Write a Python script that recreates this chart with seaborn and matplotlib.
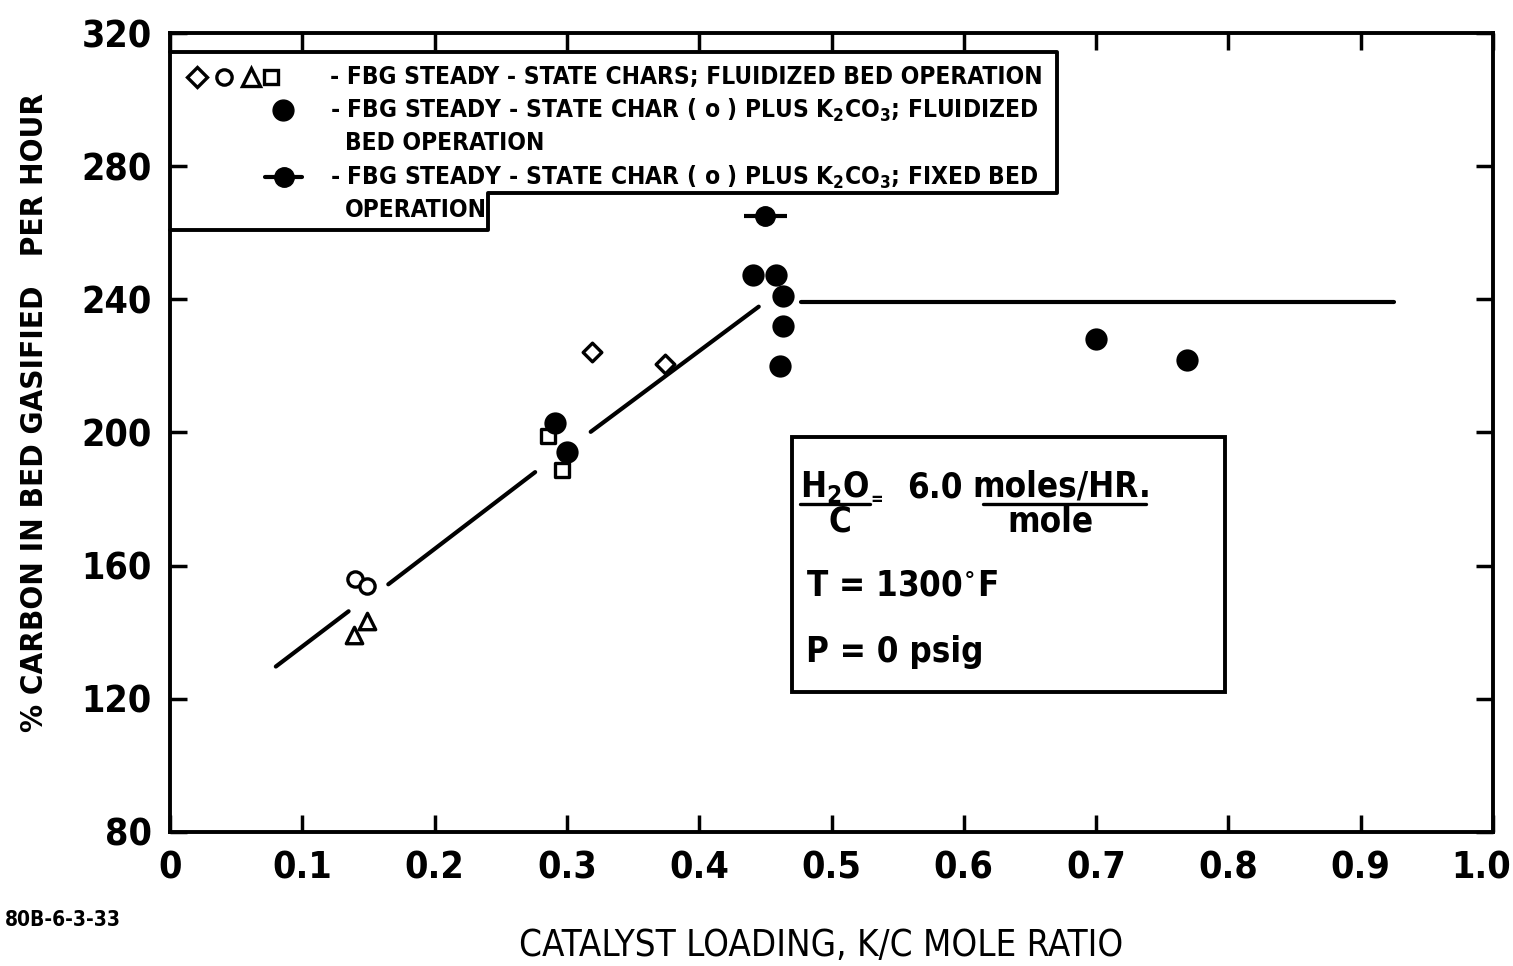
import numpy as np
import pandas as pd
import matplotlib
matplotlib.use("Agg")
import matplotlib.pyplot as plt
import seaborn as sns
from matplotlib.lines import Line2D
from matplotlib.transforms import ScaledTranslation

# ---------------- data ----------------
diamond_x = [0.319, 0.374]
diamond_y = [224.3, 220.7]
circle_x = [0.140, 0.149]
circle_y = [155.9, 153.8]
triangle_x = [0.139, 0.149]
triangle_y = [139.3, 143.3]
square_x = [0.286, 0.296]
square_y = [199.0, 188.7]
fluid_x = [0.291, 0.300, 0.441, 0.458, 0.463, 0.463, 0.461, 0.700, 0.769]
fluid_y = [202.9, 194.2, 247.2, 247.2, 241.1, 232.1, 220.0, 228.2, 221.9]
fixed_x = [0.450]
fixed_y = [264.9]
fixed_xerr = [0.016]
trend_seg = [1, 1, 2, 2, 3, 3, 4, 4]
trend_x = [0.080, 0.135, 0.165, 0.276, 0.318, 0.445, 0.477, 0.925]
trend_y = [129.7, 146.3, 154.4, 188.1, 200.2, 237.8, 239.3, 239.3]
x_ticks = [0, 0.1, 0.2, 0.3, 0.4, 0.5, 0.6, 0.7, 0.8, 0.9, 1.0]
x_labels = ["0", "0.1", "0.2", "0.3", "0.4", "0.5", "0.6", "0.7", "0.8", "0.9", "1.0"]
y_ticks = [80, 120, 160, 200, 240, 280, 320]

sns.set_theme(style="ticks")
FONT = ["DejaVu Sans", "Liberation Sans"]
plt.rcParams["font.family"] = FONT
plt.rcParams["font.stretch"] = "condensed"
plt.rcParams["font.weight"] = "bold"
plt.rcParams["text.color"] = "black"
plt.rcParams["xtick.color"] = "black"
plt.rcParams["ytick.color"] = "black"
plt.rcParams["axes.edgecolor"] = "black"
plt.rcParams["mathtext.fontset"] = "custom"
plt.rcParams["mathtext.rm"] = "DejaVu Sans:bold"
plt.rcParams["mathtext.default"] = "rm"

W, H = 1513, 966
fig = plt.figure(figsize=(W / 100, H / 100), dpi=100)
L, R, T, B = 170, 1493, 33, 832
ax = fig.add_axes([L / W, 1 - B / H, (R - L) / W, (B - T) / H])

def ax_frac(px, py):
    return (px - L) / (R - L), (B - py) / (B - T)

lw = 2.4
trend = pd.DataFrame({"x": trend_x, "y": trend_y, "seg": trend_seg})
sns.lineplot(data=trend, x="x", y="y", units="seg", estimator=None,
             color="black", lw=3, ax=ax, legend=False)

def open_marks(xs, ys, marker, size):
    sns.scatterplot(x=xs, y=ys, marker=marker, s=size, facecolor="white",
                    edgecolor="black", linewidth=lw, ax=ax, zorder=3)

open_marks(diamond_x, diamond_y, "D", 90)
open_marks(circle_x, circle_y, "o", 120)
open_marks(triangle_x, triangle_y, "^", 140)
open_marks(square_x, square_y, "s", 110)
sns.scatterplot(x=fluid_x, y=fluid_y, marker="o", s=220, color="black",
                edgecolor="black", ax=ax, zorder=4)
ax.errorbar(fixed_x, fixed_y, xerr=fixed_xerr, fmt="o", ms=14, color="black",
            elinewidth=3, capsize=0, zorder=4)

ax.set_xlim(0, 1.0)
ax.set_ylim(80, 320)
ax.set_xticks(x_ticks)
ax.set_xticklabels(x_labels)
ax.set_yticks(y_ticks)
ax.tick_params(direction="in", length=12, width=2.5, top=True, right=True,
               labelsize=27, pad=13)
for lab in ax.get_xticklabels() + ax.get_yticklabels():
    lab.set_fontweight("bold")
    lab.set_fontstretch("condensed")
last = ax.get_xticklabels()[-1]
last.set_transform(last.get_transform() + ScaledTranslation(-0.12, 0, fig.dpi_scale_trans))
for s in ax.spines.values():
    s.set_linewidth(2.8)
ax.set_xlabel("")
ax.set_ylabel("")

# legend box (stepped outline)
pts = [(170, 230), (488, 230), (488, 193), (1057, 193), (1057, 52), (170, 52)]
fx, fy = zip(*[ax_frac(*p) for p in pts])
ax.add_line(Line2D(fx, fy, color="black", lw=2.8, transform=ax.transAxes, clip_on=False))

tk = dict(transform=ax.transAxes, fontsize=17.6, fontweight="bold", fontstretch="condensed",
          va="center", ha="left")
rows = [77, 110, 143, 177, 210]
ax.text(*ax_frac(330, rows[0]), "- FBG STEADY - STATE CHARS; FLUIDIZED BED OPERATION", **tk)
ax.text(*ax_frac(330, rows[1]), "- FBG STEADY - STATE CHAR ( o ) PLUS K$_2$CO$_3$; FLUIDIZED", **tk)
ax.text(*ax_frac(345, rows[2]), "BED OPERATION", **tk)
ax.text(*ax_frac(330, rows[3]), "- FBG STEADY - STATE CHAR ( o ) PLUS K$_2$CO$_3$; FIXED BED", **tk)
ax.text(*ax_frac(345, rows[4]), "OPERATION", **tk)

mk = dict(transform=ax.transAxes, clip_on=False, color="black", ls="none")
for px, m, ms in [(197, "D", 10), (224, "o", 11), (251, "^", 13), (271, "s", 10)]:
    ax.plot(*ax_frac(px, rows[0]), marker=m, ms=ms, mfc="white", mec="black", mew=2.4, **mk)
ax.plot(*ax_frac(283, rows[1]), marker="o", ms=15, **mk)
lx0, ly0 = ax_frac(265, rows[3])
lx1, _ = ax_frac(302, rows[3])
ax.add_line(Line2D([lx0, lx1], [ly0, ly0], color="black", lw=3, transform=ax.transAxes, clip_on=False))
ax.plot(*ax_frac(284, rows[3]), marker="o", ms=14, **mk)

# condition box
bx0, by0 = ax_frac(792, 692)
bx1, by1 = ax_frac(1225, 437)
ax.add_patch(plt.Rectangle((bx0, by0), bx1 - bx0, by1 - by0, transform=ax.transAxes,
                           fill=True, facecolor="white", edgecolor="black", lw=2.8, zorder=5))
bk = dict(transform=ax.transAxes, fontsize=25, fontweight="bold", fontstretch="condensed",
          va="center", zorder=6)
ax.text(*ax_frac(835, 487), "H$_2$O", ha="center", **bk)
ax.add_line(Line2D(*zip(ax_frac(800, 504), ax_frac(870, 504)), color="black", lw=2.4,
                   transform=ax.transAxes, zorder=6))
ax.text(*ax_frac(840, 521), "C", ha="center", **bk)
ax.text(*ax_frac(877, 500), "=", ha="center", transform=ax.transAxes, fontsize=12,
        fontweight="bold", va="center", zorder=6)
ax.text(*ax_frac(935, 487), "6.0", ha="center", **bk)
ax.text(*ax_frac(1062, 487), "moles/HR.", ha="center", **bk)
ax.add_line(Line2D(*zip(ax_frac(983, 504), ax_frac(1146, 504)), color="black", lw=2.4,
                   transform=ax.transAxes, zorder=6))
ax.text(*ax_frac(1050, 521), "mole", ha="center", **bk)
ax.text(*ax_frac(806, 585), "T = 1300$^{\\circ}$F", ha="left", **bk)
ax.text(*ax_frac(806, 652), "P = 0 psig", ha="left", **bk)

# axis titles
fig.text(35 / W, 1 - 412 / H, "% CARBON IN BED GASIFIED   PER HOUR", rotation=90,
         ha="center", va="center", fontsize=22.5, fontweight="bold", fontstretch="condensed")
fig.text(821 / W, 1 - 945 / H, "CATALYST LOADING, K/C MOLE RATIO",
         ha="center", va="center", fontsize=26.3, fontweight="normal", fontstretch="condensed")
fig.text(5 / W, 1 - 920 / H, "80B-6-3-33", ha="left", va="center", fontsize=15,
         fontweight="bold", fontstretch="condensed")

fig.savefig("out.png", dpi=100, facecolor="white")
